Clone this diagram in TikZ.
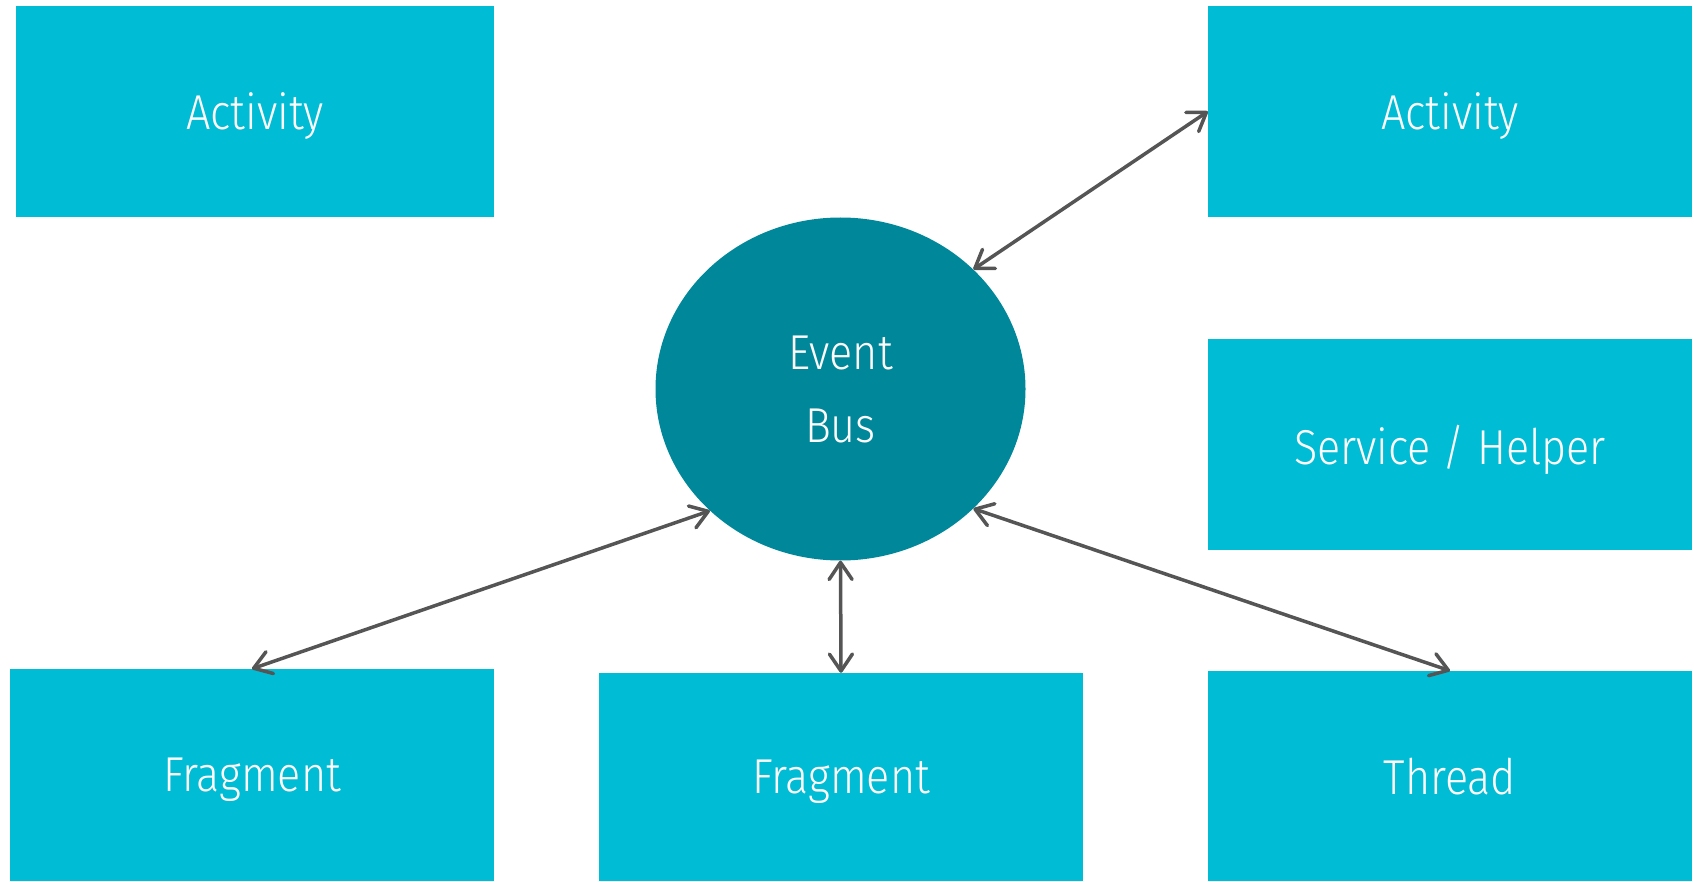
\documentclass[tikz,border=0pt]{standalone}
\usepackage{fontspec}
\setmainfont{Fira Sans Light}[FakeStretch=0.88]
\usetikzlibrary{arrows.meta,shapes.geometric}
\definecolor{boxcyan}{HTML}{00BCD4}
\definecolor{buscyan}{HTML}{00889A}
\definecolor{linegray}{HTML}{555555}
\begin{document}
\begin{tikzpicture}[x=1pt,y=-1pt,font=\fontsize{49}{73}\selectfont,line join=round,line cap=round,
	box/.style={fill=boxcyan,text=white,minimum width=484pt,minimum height=211pt,inner sep=0pt,text depth=0pt},
	link/.style={draw=linegray,line width=3.5pt,{Straight Barb[length=17pt,width=23pt,round]}-{Straight Barb[length=17pt,width=23pt,round]}}]
	\useasboundingbox (0,0) rectangle (1694,882);
	\node[box,minimum width=478pt] (actL) at (255,111.5) {Activity};
	\node[box] (actR) at (1450,111.5) {Activity};
	\node[box] (serv) at (1450,444.5) {Service / Helper};
	\node[box,minimum height=212pt] (fragL) at (252,775) {Fragment};
	\node[box,minimum height=208pt] (fragM) at (841,777) {Fragment};
	\node[box,minimum height=210pt] (thread) at (1450,776) {Thread};
	\node[ellipse,fill=buscyan,text=white,minimum width=370pt,minimum height=343pt,inner sep=0pt,align=center] (bus) at (840.5,389) {Event\\Bus};
	\draw[link] (actR.west)--(bus.42);
	\draw[link] (fragL.north)--(bus.-137);
	\draw[link] (fragM.north)--(bus.south);
	\draw[link] (thread.north)--(bus.-42);
\end{tikzpicture}
\end{document}
